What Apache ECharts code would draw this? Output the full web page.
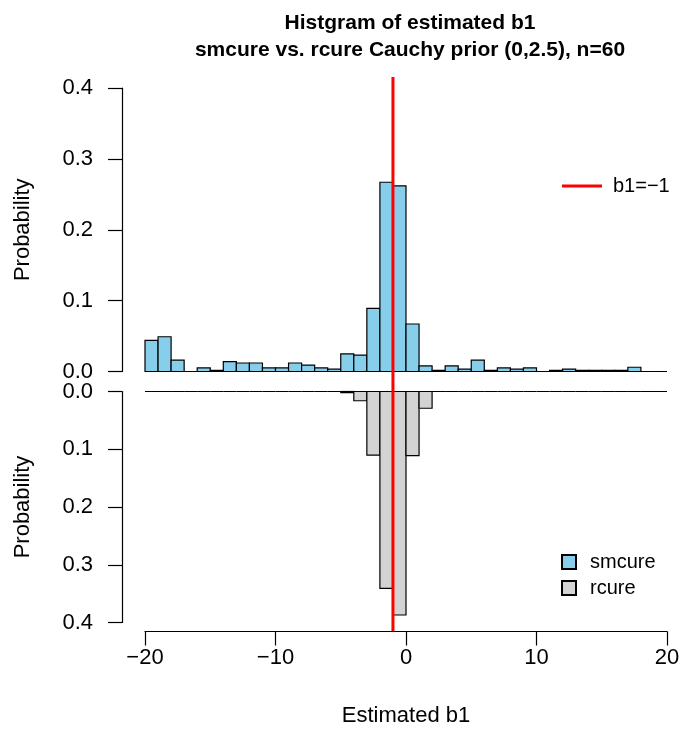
<!DOCTYPE html>
<html>
<head>
<meta charset="utf-8">
<script src="https://cdn.jsdelivr.net/npm/echarts@6/dist/echarts.min.js"></script>
<style>html,body{margin:0;padding:0;background:#fff}#c{width:683px;height:745px}</style>
</head>
<body>
<div id="c"></div>
<script>
// bin left edges, width 1, from -20 to 19
const binStarts = [-20,-19,-18,-17,-16,-15,-14,-13,-12,-11,-10,-9,-8,-7,-6,-5,-4,-3,-2,-1,0,1,2,3,4,5,6,7,8,9,10,11,12,13,14,15,16,17,18,19];
const smcure = [0.044,0.049,0.016,0,0.005,0.0017,0.014,0.012,0.012,0.005,0.005,0.012,0.009,0.005,0.0033,0.025,0.023,0.089,0.267,0.262,0.067,0.008,0.0017,0.008,0.0033,0.016,0.0017,0.005,0.0033,0.005,0,0.0017,0.0033,0.0017,0.0017,0.0017,0.0017,0.006,0,0];
const rcure = [0,0,0,0,0,0,0,0,0,0,0,0,0,0,0,0.002,0.016,0.110,0.341,0.387,0.111,0.029,0,0,0,0,0,0,0,0,0,0,0,0,0,0,0,0,0,0];
const yTicks = [0,0.1,0.2,0.3,0.4];
const xTicks = [-20,-10,0,10,20];
const trueB1 = -1;

const FONT = '"Liberation Sans", Arial, Helvetica, sans-serif';
const chart = echarts.init(document.getElementById('c'), null, {renderer:'canvas'});

function histData(vals){ return binStarts.map((s,i)=>[s, s+1, vals[i]]); }
function renderBar(params, api){
  const p0 = api.coord([api.value(0), api.value(2)]);
  const p1 = api.coord([api.value(1), 0]);
  const y = Math.min(p0[1], p1[1]);
  const h = Math.abs(p1[1]-p0[1]);
  return {type:'rect', shape:{x:p0[0], y:y, width:p1[0]-p0[0], height:h},
    style:{fill:api.visual('color'), stroke:'#000', lineWidth:1.2}};
}
const axisLab = {color:'#000', fontSize:22, fontFamily:FONT};
function yAxis(grid, inverse){
  return {type:'value', gridIndex:grid, min:yTicks[0], max:yTicks[yTicks.length-1], interval:0.1, inverse:inverse, offset:23,
    axisLine:{show:true, onZero:false, lineStyle:{color:'#000', width:1.2}},
    axisTick:{show:true, length:14, lineStyle:{color:'#000', width:1.2}},
    axisLabel:Object.assign({margin:29, formatter:v=>v.toFixed(1)}, axisLab),
    splitLine:{show:false},
    name:'Probability', nameLocation:'middle', nameRotate:90, nameGap:88,
    nameTextStyle:{color:'#000', fontSize:22, fontFamily:FONT}};
}
chart.setOption({
  animation:false,
  title:{text:'Histgram of estimated b1\nsmcure vs. rcure Cauchy prior (0,2.5), n=60', left:405, textAlign:'center', top:5,
    textStyle:{fontSize:21, fontWeight:'bold', fontFamily:FONT, color:'#000', lineHeight:27}},
  grid:[
    {left:145, width:522, top:88, height:283.5},
    {left:145, width:522, top:391.5, height:231},
    {left:145, width:522, top:77, height:554}
  ],
  xAxis:[
    {type:'value', gridIndex:0, min:-20, max:20, show:false},
    {type:'value', gridIndex:1, min:xTicks[0], max:xTicks[xTicks.length-1], interval:10, offset:9,
      axisLine:{show:true, onZero:false, lineStyle:{color:'#000', width:1.2}},
      axisTick:{show:true, length:14, lineStyle:{color:'#000', width:1.2}},
      axisLabel:Object.assign({margin:15, formatter:v=>String(v).replace('-','\u2212')}, axisLab),
      splitLine:{show:false},
      name:'Estimated b1', nameLocation:'middle', nameGap:73,
      nameTextStyle:{color:'#000', fontSize:22, fontFamily:FONT}},
    {type:'value', gridIndex:2, min:-20, max:20, show:false}
  ],
  yAxis:[
    yAxis(0,false),
    yAxis(1,true),
    {type:'value', gridIndex:2, min:0, max:1, show:false}
  ],
  legend:[
    {data:['b1=\u22121'], left:557, top:171, itemWidth:40, itemHeight:3, icon:'rect',
      textStyle:{fontSize:20, fontFamily:FONT, color:'#000', padding:[0,0,0,6]}},
    {data:['smcure','rcure'], left:556, top:547, orient:'vertical', itemWidth:14, itemHeight:14, itemGap:6, icon:'rect',
      textStyle:{fontSize:20, fontFamily:FONT, color:'#000', padding:[0,0,0,9]}}
  ],
  series:[
    {name:'smcure', type:'custom', xAxisIndex:0, yAxisIndex:0, renderItem:renderBar, data:histData(smcure),
      encode:{x:[0,1], y:2}, itemStyle:{color:'#87CEEB', borderColor:'#000', borderWidth:1}, clip:false},
    {name:'rcure', type:'custom', xAxisIndex:1, yAxisIndex:1, renderItem:renderBar, data:histData(rcure),
      encode:{x:[0,1], y:2}, itemStyle:{color:'#D3D3D3', borderColor:'#000', borderWidth:1}, clip:false},
    {name:'b1=\u22121', type:'line', xAxisIndex:2, yAxisIndex:2, data:[[trueB1,0],[trueB1,1]], symbol:'none',
      lineStyle:{color:'#FF0000', width:3}, itemStyle:{color:'#FF0000'}, z:10}
  ]
});
</script>
</body>
</html>
